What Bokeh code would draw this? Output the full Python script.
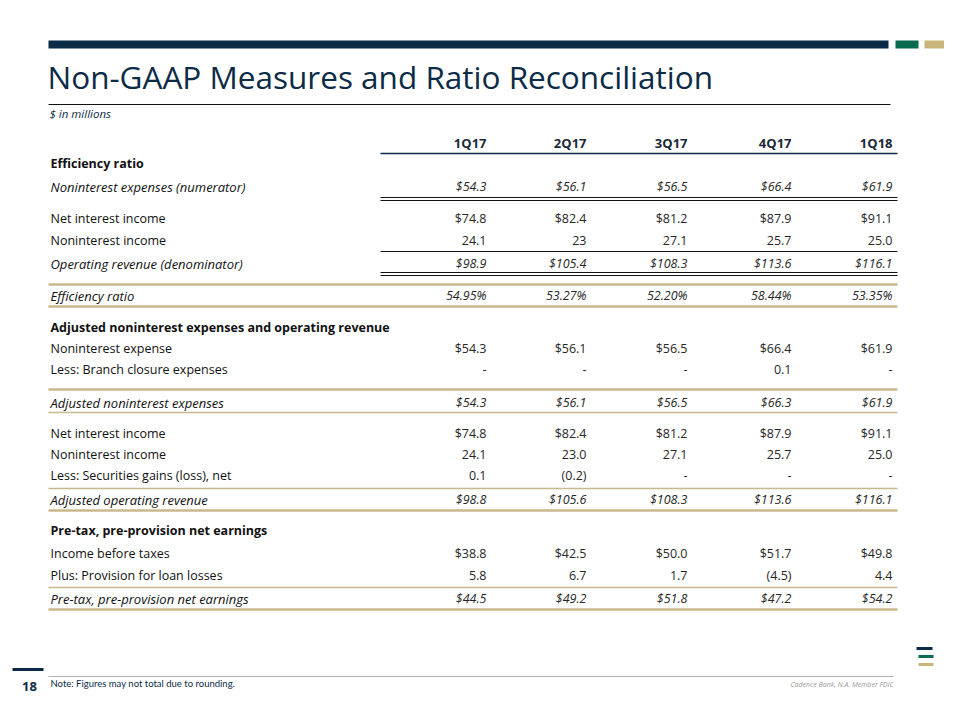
from bokeh.plotting import figure
from bokeh.models import ColumnDataSource, Range1d
from bokeh.core.properties import value
from bokeh.embed import file_html
from bokeh.resources import INLINE

# ---------------- data ----------------
quarters = ["1Q17", "2Q17", "3Q17", "4Q17", "1Q18"]

row_labels = [
    "Efficiency ratio",
    "Noninterest expenses (numerator)",
    "Net interest income",
    "Noninterest income",
    "Operating revenue (denominator)",
    "Efficiency ratio",
    "Adjusted noninterest expenses and operating revenue",
    "Noninterest expense",
    "Less: Branch closure expenses",
    "Adjusted noninterest expenses",
    "Net interest income",
    "Noninterest income",
    "Less: Securities gains (loss), net",
    "Adjusted operating revenue",
    "Pre-tax, pre-provision net earnings",
    "Income before taxes",
    "Plus: Provision for loan losses",
    "Pre-tax, pre-provision net earnings",
]

row_values = [
    None,
    ["$54.3", "$56.1", "$56.5", "$66.4", "$61.9"],
    ["$74.8", "$82.4", "$81.2", "$87.9", "$91.1"],
    ["24.1", "23", "27.1", "25.7", "25.0"],
    ["$98.9", "$105.4", "$108.3", "$113.6", "$116.1"],
    ["54.95%", "53.27%", "52.20%", "58.44%", "53.35%"],
    None,
    ["$54.3", "$56.1", "$56.5", "$66.4", "$61.9"],
    ["-", "-", "-", "0.1", "-"],
    ["$54.3", "$56.1", "$56.5", "$66.3", "$61.9"],
    ["$74.8", "$82.4", "$81.2", "$87.9", "$91.1"],
    ["24.1", "23.0", "27.1", "25.7", "25.0"],
    ["0.1", "(0.2)", "-", "-", "-"],
    ["$98.8", "$105.6", "$108.3", "$113.6", "$116.1"],
    None,
    ["$38.8", "$42.5", "$50.0", "$51.7", "$49.8"],
    ["5.8", "6.7", "1.7", "(4.5)", "4.4"],
    ["$44.5", "$49.2", "$51.8", "$47.2", "$54.2"],
]

# row kinds: section header (bold), item (normal), total (italic)
row_kind = ["section", "total", "item", "item", "total", "total",
            "section", "item", "item", "total", "item", "item", "item", "total",
            "section", "item", "item", "total"]

title = "Non-GAAP Measures and Ratio Reconciliation"
subtitle = "$ in millions"
note = "Note: Figures may not total due to rounding."
footer_right = "Cadence Bank, N.A. Member FDIC"
page_no = "18"

# ---------------- layout ----------------
NAVY = "#0c2b47"
GREEN = "#0b6b4f"
GOLD = "#c9b57a"
RULE_GOLD = "#c8b88e"
TEXT = "#262626"
FONT = "Open Sans"

row_y = [163, 186, 218, 240, 263, 295, 327, 348, 369, 402, 433, 454, 475, 499,
         530, 553, 575, 598]
col_x = [486, 586, 687, 791, 892]
label_x = 50
header_y = 142

p = figure(width=944, height=704, output_backend="svg", toolbar_location=None,
           x_range=Range1d(0, 944), y_range=Range1d(704, 0),
           min_border=0, min_border_left=0, min_border_right=0,
           min_border_top=0, min_border_bottom=0)
p.axis.visible = False
p.grid.visible = False
p.outline_line_color = None
p.background_fill_color = "white"
p.border_fill_color = "white"

# top bar
p.quad(left=[48, 895, 924], right=[888, 918, 948], top=[40, 40, 40], bottom=[48, 48, 48],
       fill_color=[NAVY, GREEN, GOLD], line_color=None)

# title
p.text(x=[47], y=[76], text=[title], text_font=value(FONT), text_font_size="31.5px",
       text_color=NAVY, text_baseline="middle", text_align="left")
p.segment(x0=[48], x1=[890], y0=[104], y1=[104], line_color="#111111", line_width=1)
p.text(x=[49], y=[113], text=[subtitle], text_font=value(FONT), text_font_size="11.5px",
       text_font_style="italic", text_color=NAVY, text_baseline="middle")

# header
p.text(x=col_x, y=[header_y] * 5, text=quarters, text_font=value(FONT),
       text_font_size="13px", text_font_style="bold", text_color="#1c2b3a",
       text_baseline="middle", text_align="right")
p.segment(x0=[380], x1=[897], y0=[153], y1=[153], line_color=NAVY, line_width=1.5)

# rows
lab_x, lab_y, lab_t, lab_style, lab_size = [], [], [], [], []
vx, vy, vt, vstyle = [], [], [], []
for lbl, vals, kind, y in zip(row_labels, row_values, row_kind, row_y):
    lab_x.append(label_x)
    lab_y.append(y)
    lab_t.append(lbl)
    lab_style.append({"section": "bold", "total": "italic", "item": "normal"}[kind])
    lab_size.append({"section": "12.5px", "total": "13px", "item": "12.5px"}[kind])
    if vals is not None:
        for x, v in zip(col_x, vals):
            vx.append(x)
            vy.append(y)
            vt.append(v)
            vstyle.append("italic" if kind == "total" else "normal")

p.text(x="x", y="y", text="t", text_font_style="s", text_font_size="fs",
       source=ColumnDataSource(dict(x=lab_x, y=lab_y, t=lab_t, s=lab_style, fs=lab_size)),
       text_font=value(FONT), text_color="#111111",
       text_baseline="middle", text_align="left")
p.text(x="x", y="y", text="t", text_font_style="s",
       source=ColumnDataSource(dict(x=vx, y=vy, t=vt, s=vstyle)),
       text_font=value(FONT), text_font_size="12.5px", text_color=TEXT,
       text_baseline="middle", text_align="right")

# black rules
p.segment(x0=[380] * 5, x1=[897] * 5, y0=[197, 200, 251, 272, 275], y1=[197, 200, 251, 272, 275],
          line_color="#111111", line_width=1)
# gold rules
gy = [284, 306, 389, 412, 488, 510, 587, 609]
gw = [2.5, 2.5, 2.5, 1.5, 1.5, 2.5, 1.5, 2.5]
p.segment(x0=[48] * 8, x1=[897] * 8, y0=gy, y1=gy, line_color=RULE_GOLD, line_width=gw)

# footer
p.segment(x0=[12], x1=[43], y0=[669], y1=[669], line_color=NAVY, line_width=3)
p.text(x=[29], y=[686], text=[page_no], text_font=value(FONT), text_font_size="13px",
       text_font_style="bold", text_color=NAVY, text_baseline="middle", text_align="center")
p.segment(x0=[48], x1=[893], y0=[676], y1=[676], line_color="#b0b0b0", line_width=1)
p.text(x=[50], y=[683], text=[note], text_font=value("Lato"),
       text_font_size="9.5px", text_color=NAVY, text_baseline="middle")
p.text(x=[893], y=[684], text=[footer_right], text_font=value(FONT), text_font_size="7px",
       text_font_style="italic", text_color="#9a9a9a", text_baseline="middle", text_align="right")

# logo bars
p.segment(x0=[916, 918, 918], x1=[932, 933, 933], y0=[648, 656, 664], y1=[648, 656, 664],
          line_color=[NAVY, GREEN, GOLD], line_width=3)

open("out.html", "w").write(file_html(p, INLINE))
